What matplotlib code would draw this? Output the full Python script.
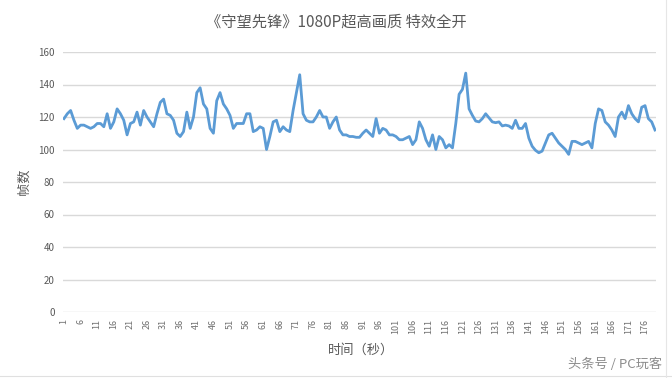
import matplotlib
matplotlib.use("Agg")
import matplotlib.pyplot as plt
import numpy as np

plt.rcParams['font.family'] = ['Noto Sans CJK SC', 'DejaVu Sans']

title = "《守望先锋》1080P超高画质 特效全开"
x_label = "时间（秒）"
y_label = "帧数"
watermark = "头条号 / PC玩客"

fps = [
    119, 122, 124, 118, 113, 115, 115, 114, 113, 114,
    116, 116, 114, 122, 113, 117, 125, 122, 118, 109,
    116, 117, 123, 115, 124, 120, 117, 114, 122, 129,
    131, 122, 121, 118, 110, 108, 111, 123, 113, 120,
    135, 138, 128, 125, 113, 110, 130, 135, 128, 125,
    121, 113, 116, 116, 116, 122, 122, 111, 112, 114,
    113, 100, 108, 117, 118, 111, 114, 112, 111, 124,
    135, 146, 122, 118, 117, 117, 120, 124, 120, 120,
    113, 117, 120, 112, 109, 109, 108, 108, 107.5, 107.5,
    110, 112, 110, 108, 119, 110, 113, 112, 109, 109,
    108, 106, 106, 107, 108, 103, 106, 117, 113, 106,
    102, 109, 100, 108, 106, 101, 103, 101, 116, 134,
    137, 147, 125, 121, 117.5, 117, 119, 122, 119.5, 117,
    116.5, 117, 114.5, 115, 114.5, 113, 118, 113, 113, 116,
    107, 102, 99.5, 98, 99, 104, 109, 110, 107, 104,
    102, 100, 97, 105, 105, 104, 103, 104, 105, 101,
    116, 125, 124, 117, 115, 112, 108, 120, 123, 119,
    127, 122, 119, 117, 126, 127, 119, 117, 112,
]
seconds = list(range(1, len(fps) + 1))
x_ticks = seconds[::5]
y_ticks = [0, 20, 40, 60, 80, 100, 120, 140, 160]

fig = plt.figure(figsize=(6.72, 3.78), dpi=100)
ax = fig.add_axes([63 / 672, 66 / 378, (656 - 63) / 672, (312 - 52) / 378])

ax.plot(seconds, fps, color="#5B9BD5", linewidth=2.0, solid_joinstyle="round", zorder=3)

ax.set_xlim(seconds[0] - 0.3, seconds[-1] + 0.3)
ax.set_ylim(0, 160)
ax.set_yticks(y_ticks)
ax.set_xticks(x_ticks)
ax.set_xticklabels([str(v) for v in x_ticks], rotation=90, fontsize=6.5, color="#707070")
ax.set_yticklabels([str(v) for v in y_ticks], fontsize=7, color="#595959")
ax.tick_params(axis="both", length=0, pad=6)
ax.tick_params(axis="x", pad=5)

ax.grid(axis="y", color="#d9d9d9", linewidth=1.0, zorder=0)
ax.grid(axis="x", visible=False)
for s in ax.spines.values():
    s.set_visible(False)

fig.text(0.5, 1 - 22 / 378, title, ha="center", va="center", fontsize=11, color="#595959")
fig.text(361 / 672, 1 - 350 / 378, x_label, ha="center", va="center", fontsize=9.5, color="#595959")
fig.text(24 / 672, 1 - 182 / 378, y_label, ha="center", va="center", fontsize=9.5, color="#595959",
         rotation=90)
fig.text(615 / 672, 1 - 364 / 378, watermark, ha="center", va="center", fontsize=9.5, color="#8c8c8c")

# faint border lines of the screenshot
fig.add_artist(plt.Line2D([0, 1], [2 / 378, 2 / 378], color="#e0e0e0", linewidth=0.8,
                          transform=fig.transFigure))
fig.add_artist(plt.Line2D([666 / 672, 666 / 672], [0, 1], color="#e6e6e6", linewidth=0.8,
                          transform=fig.transFigure))

fig.savefig("out.png", dpi=100)
